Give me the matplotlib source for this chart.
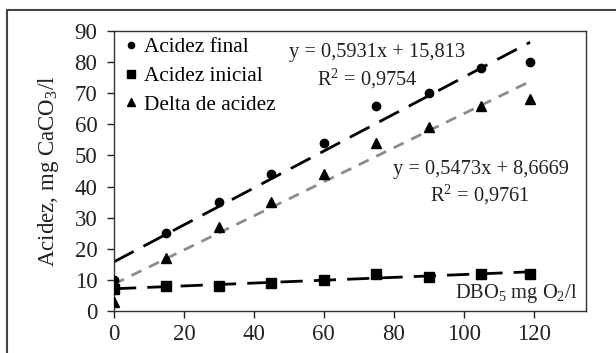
import numpy as np
import matplotlib
matplotlib.use("Agg")
import matplotlib.pyplot as plt
from matplotlib.patches import Rectangle

plt.rcParams['font.family'] = ['Liberation Serif', 'DejaVu Serif']
plt.rcParams['mathtext.fontset'] = 'custom'
plt.rcParams['mathtext.rm'] = 'Liberation Serif'
plt.rcParams['mathtext.default'] = 'rm'

x = [0, 15, 30, 45, 60, 75, 90, 105, 119]
acidez_final = [10, 25, 35, 44, 54, 66, 70, 78, 80]
acidez_inicial = [7, 8, 8, 9, 10, 12, 11, 12, 12]
delta_acidez = [3, 17, 27, 35, 44, 54, 59, 66, 68]
labels = ["Acidez final", "Acidez inicial", "Delta de acidez"]
fit_final = (0.5931, 15.813)
fit_delta = (0.5473, 8.6669)

fig = plt.figure(figsize=(6.16, 3.53), dpi=100)
ax = fig.add_axes([114/616, 1-311/353, (586-114)/616, (311-31)/353])

xs = np.array([0, x[-1]])
fit_ini = np.polyfit(x, acidez_inicial, 1)
ax.plot(xs, fit_final[0]*xs + fit_final[1], color='black', lw=2, dashes=(8, 4), zorder=2)
ax.plot(xs, fit_delta[0]*xs + fit_delta[1], color='#8c8c8c', lw=2, dashes=(4, 3), zorder=2)
ax.plot(xs, np.polyval(fit_ini, xs), color='black', lw=2, dashes=(8, 4), zorder=2)

ax.plot(x, acidez_final, 'o', color='black', ms=6, ls='none', label=labels[0], zorder=3)
ax.plot(x, acidez_inicial, 's', color='black', ms=7.5, ls='none', label=labels[1], zorder=3)
ax.plot(x, delta_acidez, '^', color='black', ms=7, ls='none', label=labels[2], zorder=3)

ax.set_xlim(0, 135)
ax.set_ylim(0, 90)
ax.set_xticks([0, 20, 40, 60, 80, 100, 120])
ax.set_yticks(range(0, 91, 10))
ax.tick_params(direction='out', length=5, width=1, labelsize=16.5, colors='#222222')
ax.tick_params(axis='y', pad=7)
ax.tick_params(axis='x', pad=4)
for s in ax.spines.values():
    s.set_color('#333333')
    s.set_linewidth(1)

ax.set_ylabel("Acidez, mg CaCO$_3$/l", fontsize=16.5, color='#222222', labelpad=10)

leg = ax.legend(loc='upper left', frameon=False, fontsize=15.3, handletextpad=0.1,
                handlelength=1.0, borderaxespad=0.0, borderpad=0.3, labelspacing=0.42,
                markerscale=0.75)

tc = '#222222'
fs = 14.7
ax.text(0.557, 0.925, "y = 0,5931x + 15,813", transform=ax.transAxes, ha='center',
        va='center', fontsize=fs, color=tc)
ax.text(0.536, 0.83, "R$^2$ = 0,9754", transform=ax.transAxes, ha='center',
        va='center', fontsize=fs, color=tc)
ax.text(0.778, 0.504, "y = 0,5473x + 8,6669", transform=ax.transAxes, ha='center',
        va='center', fontsize=fs, color=tc)
ax.text(0.775, 0.414, "R$^2$ = 0,9761", transform=ax.transAxes, ha='center',
        va='center', fontsize=fs, color=tc)
ax.text(0.981, 0.064, "DBO$_5$ mg O$_2$/l", transform=ax.transAxes, ha='right',
        va='center', fontsize=fs, color=tc)

fig.patches.append(Rectangle((7/616, -0.05), 1.2, (353-10)/353 + 0.05, transform=fig.transFigure,
                             fill=False, edgecolor='#444444', lw=1.5))

fig.savefig("out.png", dpi=100)
